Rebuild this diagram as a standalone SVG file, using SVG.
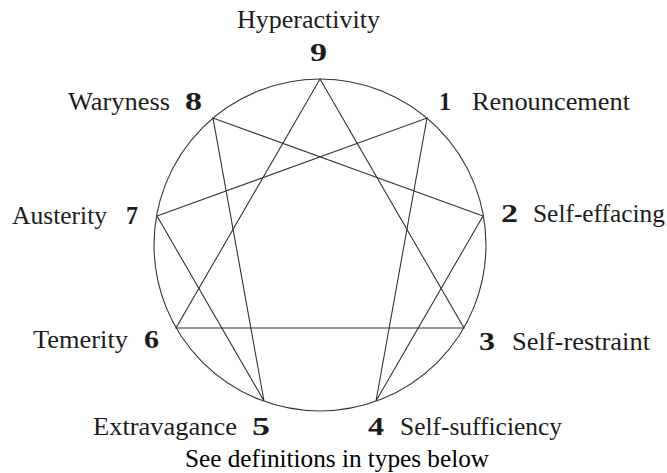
<svg xmlns="http://www.w3.org/2000/svg" width="667" height="473" viewBox="0 0 667 473" font-family="'Liberation Serif', serif">
<style>
.lbl{font-family:'Liberation Serif',serif;font-size:26px;fill:#1c1c1c}
.num{font-family:'Liberation Serif',serif;font-size:25px;font-weight:bold;fill:#1c1c1c}
.cap{font-family:'Liberation Serif',serif;font-size:25px;fill:#000}
.ln{stroke:#333;stroke-width:1.1;fill:none}
</style>
<rect width="667" height="473" fill="#fff"/>
<g id="circle"><circle class="ln" cx="320" cy="245" r="166"/></g>
<g id="connectors">
<polygon class="ln" points="320,79 464,328 176,328"/>
<polygon class="ln" points="427,118 376,401 483,216 213,118 264,401 157,216"/>
</g>
<g id="node9"><text class="lbl" x="237" y="28" textLength="143" lengthAdjust="spacingAndGlyphs">Hyperactivity</text><text class="num" x="310" y="61" textLength="17" lengthAdjust="spacingAndGlyphs">9</text></g>
<g id="node1"><text class="num" x="439" y="110" textLength="12" lengthAdjust="spacingAndGlyphs">1</text><text class="lbl" x="472" y="110" textLength="158" lengthAdjust="spacingAndGlyphs">Renouncement</text></g>
<g id="node8"><text class="lbl" x="68" y="110" textLength="102" lengthAdjust="spacingAndGlyphs">Waryness</text><text class="num" x="185" y="110" textLength="17" lengthAdjust="spacingAndGlyphs">8</text></g>
<g id="node2"><text class="num" x="501" y="222" textLength="17" lengthAdjust="spacingAndGlyphs">2</text><text class="lbl" x="533" y="222" textLength="132" lengthAdjust="spacingAndGlyphs">Self-effacing</text></g>
<g id="node7"><text class="lbl" x="12" y="224" textLength="95" lengthAdjust="spacingAndGlyphs">Austerity</text><text class="num" x="126" y="224" textLength="12" lengthAdjust="spacingAndGlyphs">7</text></g>
<g id="node6"><text class="lbl" x="33" y="348" textLength="95" lengthAdjust="spacingAndGlyphs">Temerity</text><text class="num" x="144" y="348" textLength="15" lengthAdjust="spacingAndGlyphs">6</text></g>
<g id="node3"><text class="num" x="479" y="350" textLength="16" lengthAdjust="spacingAndGlyphs">3</text><text class="lbl" x="512" y="350" textLength="138" lengthAdjust="spacingAndGlyphs">Self-restraint</text></g>
<g id="node5"><text class="lbl" x="93" y="435" textLength="144" lengthAdjust="spacingAndGlyphs">Extravagance</text><text class="num" x="252" y="435" textLength="18" lengthAdjust="spacingAndGlyphs">5</text></g>
<g id="node4"><text class="num" x="368" y="435" textLength="16" lengthAdjust="spacingAndGlyphs">4</text><text class="lbl" x="400" y="435" textLength="162" lengthAdjust="spacingAndGlyphs">Self-sufficiency</text></g>
<text class="cap" x="185" y="467" textLength="304" lengthAdjust="spacingAndGlyphs">See definitions in types below</text>
</svg>
